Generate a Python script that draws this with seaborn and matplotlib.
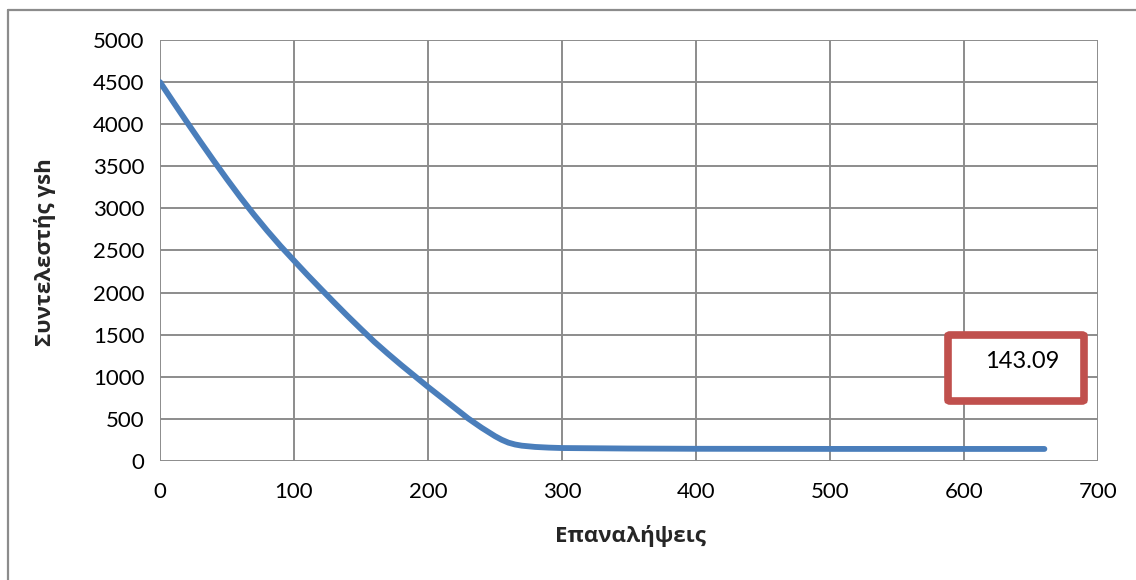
import matplotlib
matplotlib.use("Agg")
import matplotlib.pyplot as plt
import seaborn as sns
import pandas as pd
from matplotlib.patches import FancyBboxPatch
from matplotlib.lines import Line2D

# data
iterations = [0, 10, 20, 30, 40, 50, 60, 70, 80, 90, 100, 110, 120, 130, 140,
              150, 160, 170, 180, 190, 200, 210, 220, 230, 240, 250, 255, 260,
              265, 270, 280, 290, 300, 350, 400, 500, 600, 660]
ysh_values = [4500, 4262, 4027, 3795, 3568, 3346, 3132, 2928, 2735, 2552, 2380,
              2210, 2045, 1882, 1722, 1567, 1415, 1275, 1140, 1010, 880, 755,
              630, 505, 395, 295, 252, 218, 196, 182, 167, 159, 154, 148, 145,
              143.5, 143.2, 143.09]
x_ticks = [0, 100, 200, 300, 400, 500, 600, 700]
y_ticks = [0, 500, 1000, 1500, 2000, 2500, 3000, 3500, 4000, 4500, 5000]
x_label = "Επαναλήψεις"
y_label = "Συντελεστής γsh"
final_label = "143.09"

sns.set_style("white")
plt.rcParams['font.family'] = ['Lato', 'Open Sans', 'DejaVu Sans']

W, H = 1136, 580
fig = plt.figure(figsize=(W / 100, H / 100), dpi=100)
ax = fig.add_axes([160 / W, 1 - 461 / H, (1098 - 160) / W, (461 - 40) / H])

df = pd.DataFrame({"it": iterations, "ysh": ysh_values})
sns.lineplot(data=df, x="it", y="ysh", ax=ax, color="#4A7EBB", linewidth=4.2,
             solid_capstyle="round", solid_joinstyle="round", zorder=3)

ax.set_xlim(0, 700)
ax.set_ylim(0, 5000)
ax.set_xticks(x_ticks)
ax.set_yticks(y_ticks)
ax.grid(True, color="#8C8C8C", linewidth=1.4)
ax.set_axisbelow(True)
for s in ["top", "right", "bottom", "left"]:
    ax.spines[s].set_visible(False)
ax.tick_params(axis="both", which="both", length=6, width=1.4, color="#8C8C8C",
               labelsize=16, labelcolor="black", direction="out")
ax.tick_params(axis="x", pad=9)
ax.tick_params(axis="y", pad=5)
ax.set_xlabel("")
ax.set_ylabel("")

fig.text(630 / W, 1 - 536 / H, x_label, ha="center", va="center",
         fontsize=16, fontweight="bold", family=['Open Sans', 'DejaVu Sans'])
fig.text(45 / W, 1 - 252 / H, y_label, ha="center", va="center", rotation=90,
         fontsize=16, fontweight="bold", family=['Open Sans', 'DejaVu Sans'])

# outer chart frame (top and left visible)
fig.add_artist(Line2D([8 / W, 8 / W], [0, 1 - 10 / H], transform=fig.transFigure,
                      color="#8C8C8C", linewidth=1.6))
fig.add_artist(Line2D([8 / W, 1], [1 - 10 / H, 1 - 10 / H], transform=fig.transFigure,
                      color="#8C8C8C", linewidth=1.6))

# red annotation box
bx0, by0, bx1, by1 = 948, 335, 1084, 401
box = FancyBboxPatch((bx0 / W, 1 - by1 / H), (bx1 - bx0) / W, (by1 - by0) / H,
                     boxstyle="round,pad=0,rounding_size=0.002",
                     transform=fig.transFigure, facecolor="white",
                     edgecolor="#C0504D", linewidth=5.5, zorder=5)
fig.add_artist(box)
fig.text(1022 / W, 1 - 362 / H, final_label, ha="center", va="center",
         fontsize=17, color="black", zorder=6)

fig.savefig("out.png", dpi=100)
